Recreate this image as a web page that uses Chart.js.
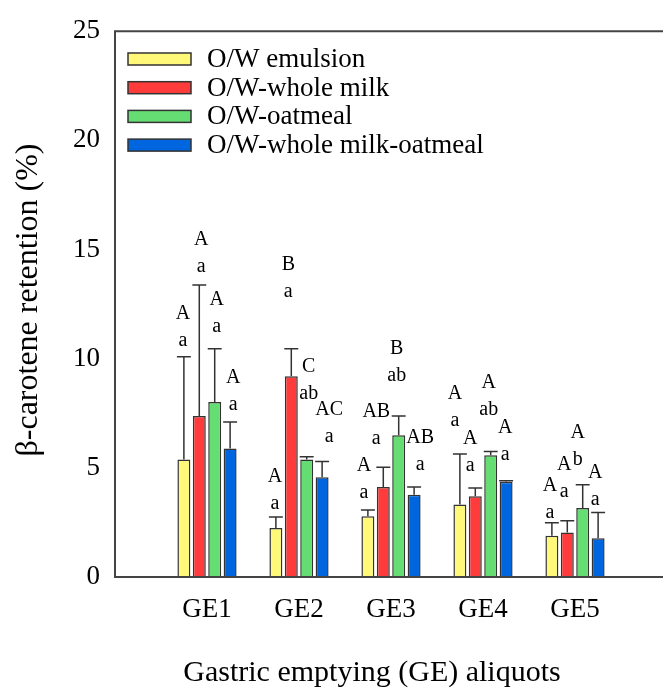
<!DOCTYPE html>
<html>
<head>
<meta charset="utf-8">
<script src="https://cdn.jsdelivr.net/npm/chart.js@4"></script>
<style>
  html, body { margin: 0; padding: 0; background: #fff; overflow: hidden; }
  #wrap { width: 667px; height: 688px; }
</style>
</head>
<body>
<div id="wrap"><canvas id="myChart"></canvas></div>
<script>
const categories = ['GE1', 'GE2', 'GE3', 'GE4', 'GE5'];
const seriesNames = ['O/W emulsion', 'O/W-whole milk', 'O/W-oatmeal', 'O/W-whole milk-oatmeal'];
const yTicks = [0, 5, 10, 15, 20, 25];

// mean retention (%) per aliquot
const emulsion = [5.38, 2.25, 2.78, 3.32, 1.89];
const wholeMilk = [7.38, 9.19, 4.12, 3.70, 2.04];
const oatmeal = [8.02, 5.38, 6.49, 5.58, 3.16];
const milkOatmeal = [5.89, 4.57, 3.77, 4.36, 1.78];

// upper error (SD)
const emulsionErr = [4.71, 0.50, 0.29, 2.31, 0.59];
const wholeMilkErr = [5.99, 1.27, 0.91, 0.38, 0.54];
const oatmealErr = [2.44, 0.13, 0.88, 0.17, 1.07];
const milkOatmealErr = [1.21, 0.72, 0.35, 0.05, 1.18];

// significance letters (upper = between aliquots, lower = between samples)
const emulsionUpper = ['A', 'A', 'A', 'A', 'A'];
const emulsionLower = ['a', 'a', 'a', 'a', 'a'];
const wholeMilkUpper = ['A', 'B', 'AB', 'A', 'A'];
const wholeMilkLower = ['a', 'a', 'a', 'a', 'a'];
const oatmealUpper = ['A', 'C', 'B', 'A', 'A'];
const oatmealLower = ['a', 'ab', 'ab', 'ab', 'b'];
const milkOatmealUpper = ['A', 'AC', 'AB', 'A', 'A'];
const milkOatmealLower = ['a', 'a', 'a', 'a', 'a'];

// where the letters sit (value of the lower letter, x nudge in px)
const letterAt = [
  [10.82, 3.34, 3.86, 7.16, 2.96],
  [14.23, 13.08, 6.33, 5.10, 3.91],
  [11.46, 8.39, 9.23, 7.67, 5.39],
  [7.89, 6.43, 5.15, 5.60, 3.53]
];
const letterNudge = [
  [-1, -1, -4, -5, -2],
  [2, -3, -7, -5, -3],
  [2, 2, -2, -2, -5],
  [3, 7, 6, -1, -3]
];

const colors = ['#fff878', '#ff3b3b', '#66dd72', '#0066e0'];
const values = [emulsion, wholeMilk, oatmeal, milkOatmeal];
const errors = [emulsionErr, wholeMilkErr, oatmealErr, milkOatmealErr];
const uppers = [emulsionUpper, wholeMilkUpper, oatmealUpper, milkOatmealUpper];
const lowers = [emulsionLower, wholeMilkLower, oatmealLower, milkOatmealLower];

const serif = '"Liberation Serif", "Times New Roman", serif';
const lineCol = '#444';

const extras = {
  id: 'extras',
  afterDatasetsDraw(chart) {
    const ctx = chart.ctx;
    const y = chart.scales.y;
    ctx.save();
    ctx.strokeStyle = '#333';
    ctx.lineWidth = 1.5;
    chart.data.datasets.forEach((ds, d) => {
      const meta = chart.getDatasetMeta(d);
      meta.data.forEach((bar, i) => {
        const top = y.getPixelForValue(values[d][i] + errors[d][i]);
        const half = bar.width / 2 + 0.5;
        ctx.beginPath();
        ctx.moveTo(bar.x, bar.y);
        ctx.lineTo(bar.x, top);
        ctx.moveTo(bar.x - half, top);
        ctx.lineTo(bar.x + half, top);
        ctx.stroke();
      });
    });
    ctx.restore();
  },
  afterDraw(chart) {
    const ctx = chart.ctx;
    const a = chart.chartArea;
    const y = chart.scales.y;
    ctx.save();

    // frame (open on the right, as in the source figure)
    ctx.strokeStyle = lineCol;
    ctx.lineWidth = 2;
    ctx.beginPath();
    ctx.moveTo(chart.width + 2, a.top);
    ctx.lineTo(a.left, a.top);
    ctx.lineTo(a.left, a.bottom);
    ctx.lineTo(chart.width + 2, a.bottom);
    ctx.stroke();

    // letters
    ctx.fillStyle = '#000';
    ctx.font = '20px ' + serif;
    ctx.textAlign = 'center';
    ctx.textBaseline = 'middle';
    chart.data.datasets.forEach((ds, d) => {
      const meta = chart.getDatasetMeta(d);
      meta.data.forEach((bar, i) => {
        const px = bar.x + letterNudge[d][i];
        const py = y.getPixelForValue(letterAt[d][i]);
        ctx.fillText(lowers[d][i], px, py);
        ctx.fillText(uppers[d][i], px, py - 27);
      });
    });

    // legend
    ctx.font = '27px ' + serif;
    ctx.textAlign = 'left';
    chart.data.datasets.forEach((ds, d) => {
      const cy = 59 + d * 28.7;
      ctx.fillStyle = ds.backgroundColor;
      ctx.fillRect(128, cy - 6, 63, 12);
      ctx.strokeStyle = '#333';
      ctx.lineWidth = 1.5;
      ctx.strokeRect(128, cy - 6, 63, 12);
      ctx.fillStyle = '#000';
      ctx.fillText(ds.label, 207, cy + 1);
    });

    // axis titles
    ctx.font = '30px ' + serif;
    ctx.textAlign = 'center';
    ctx.fillText('Gastric emptying (GE) aliquots', 372, 673);
    ctx.font = '32px ' + serif;
    ctx.translate(29, 300);
    ctx.rotate(-Math.PI / 2);
    ctx.fillText('\u03B2-carotene retention (%)', 0, 0);
    ctx.restore();
  }
};

const ctx = document.getElementById('myChart');

const myChart = new Chart(ctx, {
  type: 'bar',
  data: {
    datasets: seriesNames.map((name, d) => ({
      label: name,
      data: values[d].map((v, i) => ({ x: i + 1, y: v })),
      backgroundColor: colors[d],
      borderColor: '#333',
      borderWidth: 1.5,
      categoryPercentage: 0.67,
      barPercentage: 0.84
    }))
  },
  options: {
    responsive: true,
    maintainAspectRatio: false,
    animation: false,
    layout: { padding: { top: 24, right: 0, left: 0, bottom: 0 } },
    plugins: {
      legend: { display: false },
      tooltip: { enabled: false }
    },
    scales: {
      x: {
        type: 'linear',
        min: 0,
        max: categories.length + 1,
        offset: false,
        grid: { display: false, drawTicks: false },
        border: { display: false },
        afterFit: (s) => { s.height = 111; },
        afterBuildTicks: (s) => {
          s.ticks = categories.map((c, i) => ({ value: i + 1 }));
        },
        ticks: {
          padding: 17,
          color: '#000',
          font: { family: serif, size: 27 },
          callback: (v) => categories[v - 1] || ''
        }
      },
      y: {
        min: 0,
        max: 25,
        grid: { display: false, drawTicks: false },
        border: { display: false },
        afterFit: (s) => { s.width = 115; },
        afterBuildTicks: (s) => {
          s.ticks = yTicks.map((v) => ({ value: v }));
        },
        ticks: {
          padding: 15,
          color: '#000',
          font: { family: serif, size: 27 }
        }
      }
    }
  },
  plugins: [extras]
});
</script>
</body>
</html>
